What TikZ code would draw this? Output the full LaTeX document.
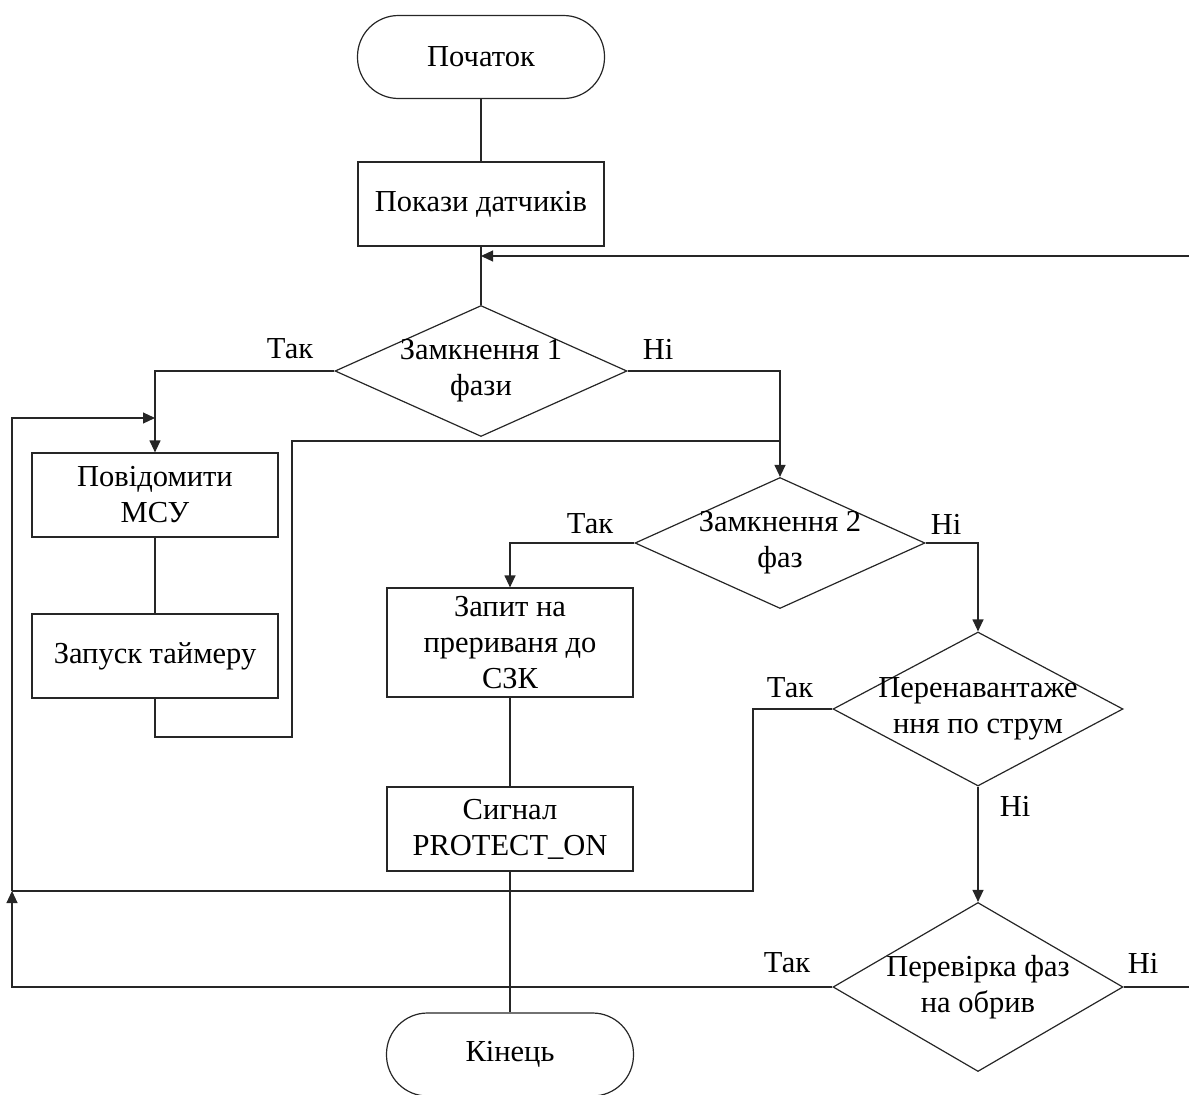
\documentclass[tikz,border=0pt]{standalone}
\usepackage{fontspec}
\setmainfont{Liberation Serif}
\usetikzlibrary{shapes.geometric,arrows.meta}

\tikzset{
  conn/.style={line width=1.2pt, draw=black!85},
  arr/.style={conn, -{Triangle[length=12pt,width=11pt]}},
  procbox/.style={draw=black!85, line width=1.2pt, rectangle, inner sep=0pt,
    minimum width=246pt, align=center},
  termbox/.style={draw=black!85, line width=1.2pt, rectangle, rounded corners=41pt,
    inner sep=0pt, minimum width=247pt, minimum height=83pt, align=center},
  decision/.style={draw=black!85, line width=1.2pt, diamond, inner sep=0pt},
  lbl/.style={inner sep=0pt}
}

\begin{document}
\begin{tikzpicture}[x=1pt, y=-1pt, font=\fontsize{30.5}{36}\selectfont]
\useasboundingbox (0,0) rectangle (1189,1095);

% terminals and process boxes
\node[termbox] (start) at (481,57) {Початок};
\node[procbox, minimum height=84pt] (sensors) at (481,204) {Покази датчиків};
\node[procbox, minimum height=84pt] (msu) at (155,495) {Повідомити\\МСУ};
\node[procbox, minimum height=84pt] (timer) at (155,656) {Запуск таймеру};
\node[procbox, minimum height=109pt] (req) at (510,642.5) {Запит на\\прериваня до\\СЗК};
\node[procbox, minimum height=84pt] (sig) at (510,829) {Сигнал\\PROTECT\_ON};
\node[termbox] (finish) at (510,1054.5) {Кінець};

% decisions
\node[decision, minimum width=292pt, minimum height=131pt,
  label={[align=center]center:Замкнення 1\\фази}] (d1) at (481,371) {};
\node[decision, minimum width=290pt, minimum height=131pt,
  label={[align=center]center:Замкнення 2\\фаз}] (d2) at (780,543) {};
\node[decision, minimum width=290pt, minimum height=154pt,
  label={[align=center]center:Перенавантаже\\ння по струм}] (d3) at (978,709) {};
\node[decision, minimum width=290pt, minimum height=169pt,
  label={[align=center]center:Перевірка фаз\\на обрив}] (d4) at (978,987) {};

% branch labels
\node[lbl] (t1) at (290,349) {Так};
\node[lbl] (n1) at (658,349) {Ні};
\node[lbl] (t2) at (590,524) {Так};
\node[lbl] (n2) at (946,524) {Ні};
\node[lbl] (t3) at (790,688) {Так};
\node[lbl] (n3) at (1015,806) {Ні};
\node[lbl] (t4) at (787,963) {Так};
\node[lbl] (n4) at (1143,963) {Ні};

% routing points
\coordinate (loopin) at (1189,256);
\coordinate (exit) at (1189,987);
\coordinate (railtop) at (12,418);
\coordinate (railmid) at (12,891);
\coordinate (olx) at (753,891);
\coordinate (tmr) at (292,737);
\coordinate (tmrtop) at (292,441);

% main flow
\draw[conn] (start) -- (sensors);
\draw[conn] (sensors) -- (d1.north);
\draw[arr] (loopin) -- (loopin -| sensors.south);
\draw[arr] (d1.west) -| (msu.north);
\draw[conn] (msu) -- (timer);
\draw[conn] (timer.south) |- (tmr) -- (tmrtop) -- (tmrtop -| d2.north);
\draw[arr] (d1.east) -| (d2.north);
\draw[arr] (d2.west) -| (req.north);
\draw[conn] (req) -- (sig);
\draw[conn] (sig) -- (finish);
\draw[arr] (d2.east) -| (d3.north);
\draw[arr] (d3.south) -- (d4.north);
\draw[conn] (d4.east) -- (exit);

% return rail on the left
\draw[conn] (d3.west) -| (olx) -- (railmid);
\draw[arr] (d4.west) -| (railmid);
\draw[arr] (railmid) -- (railtop) -- (railtop -| msu.north);
\end{tikzpicture}
\end{document}
